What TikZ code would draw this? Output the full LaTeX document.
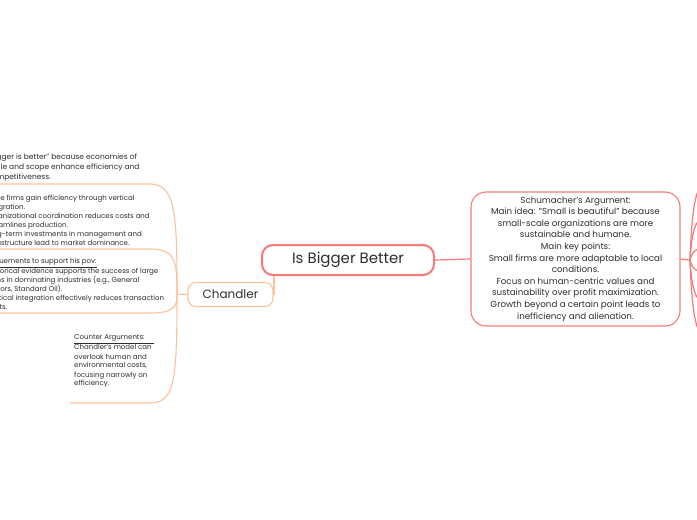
\documentclass[tikz,border=0pt]{standalone}
\usepackage{fontspec}
\setmainfont{Poppins}
\definecolor{redline}{HTML}{F47A7A}
\definecolor{peach}{HTML}{FDC29C}
\definecolor{ink}{HTML}{2E2E2E}
\begin{document}
\begin{tikzpicture}[x=1pt, y=-1pt,
  central/.style={draw=redline, line width=2pt, rounded corners=11pt, minimum width=172pt, minimum height=30pt, text=ink, font=\fontsize{15}{17}\selectfont},
  mainbox/.style={draw=redline, line width=1.1pt, rounded corners=15pt, minimum width=209pt, minimum height=134pt, align=center, text=ink, font=\fontsize{8.7}{11.6}\selectfont},
  subbox/.style={draw=peach, line width=1.1pt, rounded corners=8pt, minimum width=85pt, minimum height=24pt, text=ink, font=\fontsize{12}{14}\selectfont},
  leaf/.style={anchor=south west, align=left, inner xsep=0pt, inner ysep=3pt, text=ink, font=\fontsize{7}{9}\selectfont},
  redbranch/.style={draw=redline, line width=1.2pt},
  branch/.style={draw=peach, line width=1.1pt}]
\useasboundingbox (0,0) rectangle (697,520);
\clip (0,0) rectangle (697,520);
\fill[white] (0,0) rectangle (697,520);
\node[central] (big) at (348,260) {Is Bigger Better};
\node[mainbox] (schu) at (575.5,259) {Schumacher's Argument:\\Main idea: "Small is beautiful" because\\small-scale organizations are more\\sustainable and humane.\\Main key points:\\Small firms are more adaptable to local\\conditions.\\Focus on human-centric values and\\sustainability over profit maximization.\\Growth beyond a certain point leads to\\inefficiency and alienation.};
\node[subbox] (chandler) at (230.5,294.5) {Chandler};
\node[leaf, inner ysep=2.5pt, font=\fontsize{7.5}{10}\selectfont] (view) at (-13,184) {"Bigger is better" because economies of\\scale and scope enhance efficiency and\\competitiveness.};
\node[leaf] (gains) at (-15,249) {Large firms gain efficiency through vertical\\integration.\\Organizational coordination reduces costs and\\streamlines production.\\Long-term investments in management and\\infrastructure lead to market dominance.};
\node[leaf] (support) at (-13,313) {\underline{Arguements to support his pov:}\\Historical evidence supports the success of large\\firms in dominating industries (e.g., General\\Motors, Standard Oil).\\Vertical integration effectively reduces transaction\\costs.};
\node[leaf, inner ysep=15pt] (counter) at (74,403) {\underline{Counter Arguments:\hspace{9pt}}\\Chandler's model can\\overlook human and\\environmental costs,\\focusing narrowly on\\efficiency.};
\coordinate (lj) at (177,294);
\coordinate (u1) at (150,184);
\coordinate (u2) at (150,249);
\coordinate (u3) at (150,313);
\coordinate (u4) at (150,403);
\coordinate (rj) at (690,260);
\foreach \i/\y in {1/178,2/214,3/247,4/273,5/306,6/342}
  \coordinate (r\i) at (725,\y);
\draw[redbranch] (big.east) -- (schu.west);
\draw[branch] ([xshift=13pt]big.south west) |- (chandler.east);
\draw[branch] (chandler.west) -- (lj);
\draw[branch] (lj) .. controls (177,215) and (176,184) .. (u1) -- (view.south west);
\draw[branch] (lj) .. controls (177,262) and (176,249) .. (u2) -- (gains.south west);
\draw[branch] (lj) .. controls (177,305) and (176,313) .. (u3) -- (support.south west);
\draw[branch] (lj) .. controls (177,380) and (175,403) .. (u4) -- ([xshift=-4pt]counter.south west);
\draw[redbranch] (schu.east) -- (rj);
\foreach \i/\y in {1/178,2/214,3/247,4/273,5/306,6/342}
  \draw[redbranch] (rj) .. controls (693,\y) and (700,\y) .. (r\i);
\end{tikzpicture}
\end{document}
